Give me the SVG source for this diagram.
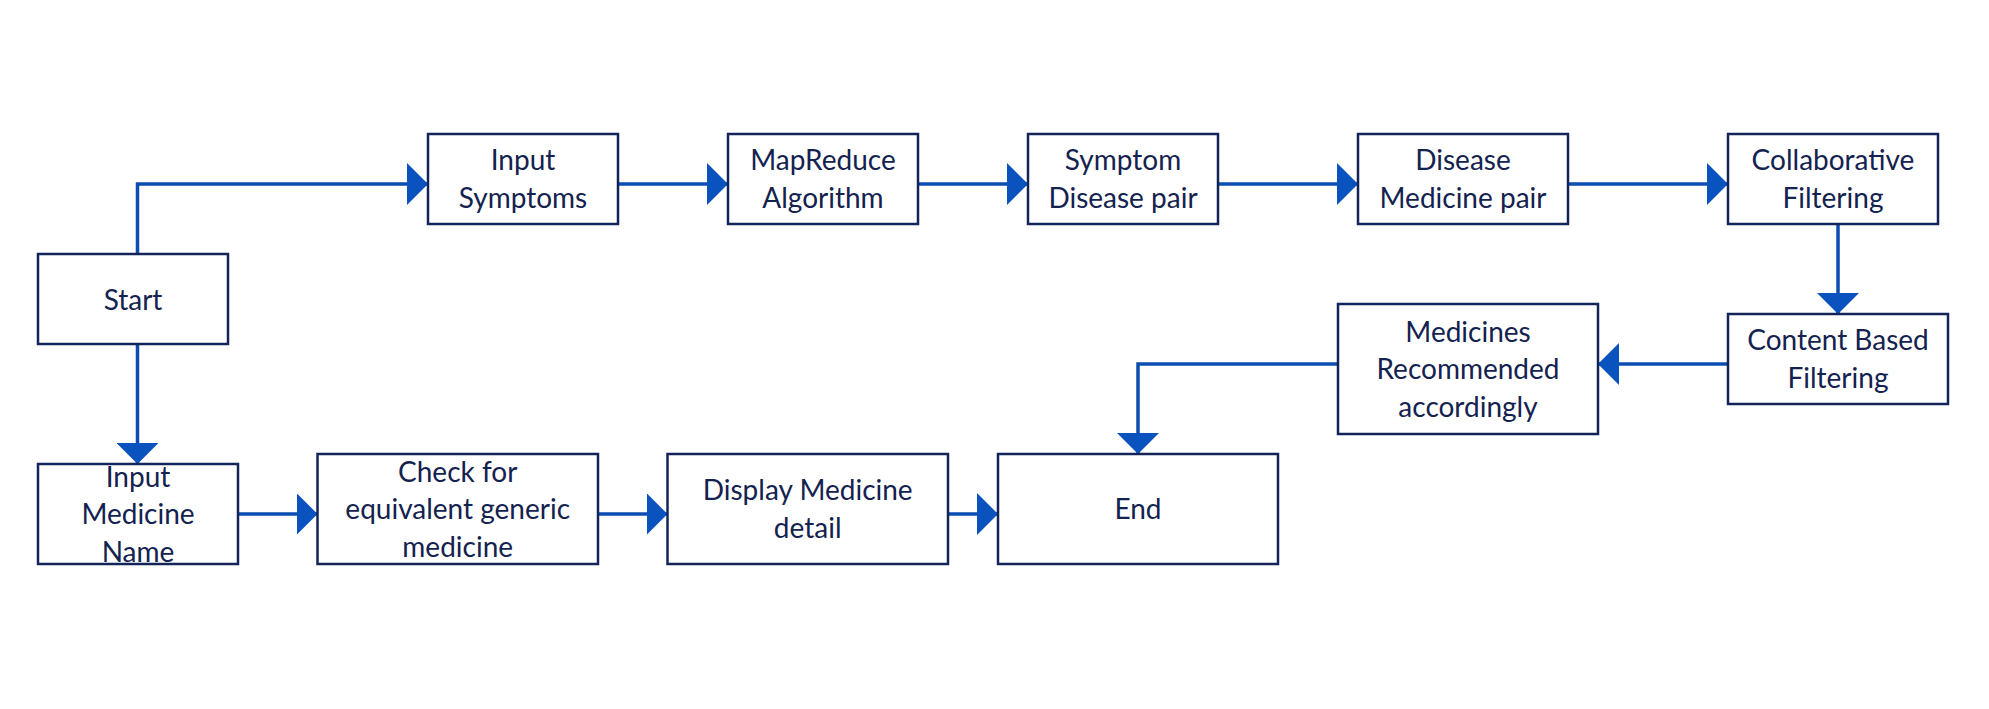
<svg xmlns="http://www.w3.org/2000/svg" width="1989" height="709" viewBox="0 0 1989 709">
<style>
.box{fill:#ffffff;stroke:#13245a;stroke-width:2.5}
.lbl{font-family:Lato,"Open Sans","Liberation Sans",sans-serif;font-size:28px;fill:#13224f;text-anchor:middle}
.conn{fill:none;stroke:#0b4db0;stroke-width:3.5;marker-end:url(#ah)}
</style>
<defs>
<marker id="ah" markerUnits="userSpaceOnUse" markerWidth="21" markerHeight="42" refX="21" refY="21" orient="auto">
<path d="M0,0 L21,21 L0,42 Z" fill="#0a52bd"/>
</marker>
</defs>
<rect width="1989" height="709" fill="#ffffff"/>
<g id="connectors">
<path class="conn" d="M137.5,254 V184 H428"/>
<path class="conn" d="M137.5,344 V464"/>
<path class="conn" d="M618,184 H728"/>
<path class="conn" d="M918,184 H1028"/>
<path class="conn" d="M1218,184 H1358"/>
<path class="conn" d="M1568,184 H1728"/>
<path class="conn" d="M1838,224 V314"/>
<path class="conn" d="M1728,364 H1598"/>
<path class="conn" d="M1338,364 H1138 V454"/>
<path class="conn" d="M238,514 H317.5"/>
<path class="conn" d="M598,514 H667.5"/>
<path class="conn" d="M948,514 H998"/>
</g>
<g id="start">
<rect class="box" x="38" y="254" width="190" height="90"/>
<text class="lbl" x="133" y="309.5">Start</text>
</g>
<g id="input-symptoms">
<rect class="box" x="428" y="134" width="190" height="90"/>
<text class="lbl" x="523" y="170">Input</text>
<text class="lbl" x="523" y="207.5">Symptoms</text>
</g>
<g id="mapreduce">
<rect class="box" x="728" y="134" width="190" height="90"/>
<text class="lbl" x="823" y="170">MapReduce</text>
<text class="lbl" x="823" y="207.5">Algorithm</text>
</g>
<g id="symptom-disease">
<rect class="box" x="1028" y="134" width="190" height="90"/>
<text class="lbl" x="1123" y="170">Symptom</text>
<text class="lbl" x="1123" y="207.5">Disease pair</text>
</g>
<g id="disease-medicine">
<rect class="box" x="1358" y="134" width="210" height="90"/>
<text class="lbl" x="1463" y="170">Disease</text>
<text class="lbl" x="1463" y="207.5">Medicine pair</text>
</g>
<g id="collaborative">
<rect class="box" x="1728" y="134" width="210" height="90"/>
<text class="lbl" x="1833" y="170">Collaborative</text>
<text class="lbl" x="1833" y="207.5">Filtering</text>
</g>
<g id="content-based">
<rect class="box" x="1728" y="314" width="220" height="90"/>
<text class="lbl" x="1838" y="350">Content Based</text>
<text class="lbl" x="1838" y="387.5">Filtering</text>
</g>
<g id="medicines-recommended">
<rect class="box" x="1338" y="304" width="260" height="130"/>
<text class="lbl" x="1468" y="341.5">Medicines</text>
<text class="lbl" x="1468" y="379">Recommended</text>
<text class="lbl" x="1468" y="416.5">accordingly</text>
</g>
<g id="input-medicine">
<rect class="box" x="38" y="464" width="200" height="100"/>
<text class="lbl" x="138" y="486.5">Input</text>
<text class="lbl" x="138" y="524">Medicine</text>
<text class="lbl" x="138" y="561.5">Name</text>
</g>
<g id="check-generic">
<rect class="box" x="317.5" y="454" width="280.5" height="110"/>
<text class="lbl" x="457.7" y="481.8">Check for</text>
<text class="lbl" x="457.7" y="519.2">equivalent generic</text>
<text class="lbl" x="457.7" y="556.6">medicine</text>
</g>
<g id="display-medicine">
<rect class="box" x="667.5" y="454" width="280.5" height="110"/>
<text class="lbl" x="807.7" y="500">Display Medicine</text>
<text class="lbl" x="807.7" y="537.5">detail</text>
</g>
<g id="end">
<rect class="box" x="998" y="454" width="280" height="110"/>
<text class="lbl" x="1138" y="519.3">End</text>
</g>
</svg>
